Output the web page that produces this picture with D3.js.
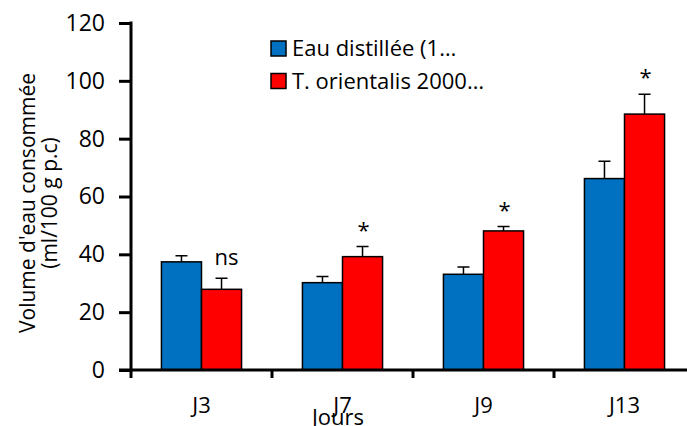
<!DOCTYPE html>
<html><head><meta charset="utf-8">
<script src="https://cdn.jsdelivr.net/npm/d3@7"></script>
<style>body{margin:0;background:#fff}svg{display:block}text{font-family:"Open Sans",sans-serif;fill:#000}</style>
</head><body><svg id="c" width="687" height="426"></svg>
<script>
const categories = ["J3","J7","J9","J13"];
const seriesNames = ["Eau distillée (1…","T. orientalis 2000…"];
const eauValues = [37.4, 30.2, 33.1, 66.2];
const eauErrors = [2.1, 2.1, 2.5, 6.0];
const orientValues = [27.9, 39.2, 48.1, 88.5];
const orientErrors = [3.8, 3.5, 1.5, 6.9];
const annotations = ["ns","*","*","*"];
const yTicks = [0,20,40,60,80,100,120];
const colors = ["#0070C0","#FF0000"];
const FS = 22;

const svg = d3.select("#c");
const x0 = d3.scaleBand().domain(categories).range([131,695]);
const x1 = d3.scaleBand().domain([0,1]).range([0,x0.bandwidth()]).paddingOuter(0.76);
const y = d3.scaleLinear().domain([0,120]).range([370,23]);

const data = categories.map((c,i)=>({c, vals:[
  {s:0,v:eauValues[i],e:eauErrors[i]},
  {s:1,v:orientValues[i],e:orientErrors[i]}], ann:annotations[i]}));

const g = svg.selectAll("g.cat").data(data).join("g").attr("transform",d=>`translate(${x0(d.c)},0)`);
g.selectAll("path.err").data(d=>d.vals).join("path")
  .attr("d",d=>{const cx=x1(d.s)+x1.bandwidth()/2;return `M${cx},${y(d.v)}V${y(d.v+d.e)}M${cx-6},${y(d.v+d.e)}H${cx+6}`;})
  .attr("stroke","#000").attr("stroke-width",1.5).attr("fill","none");
g.selectAll("rect").data(d=>d.vals).join("rect")
  .attr("x",d=>x1(d.s)).attr("width",x1.bandwidth())
  .attr("y",d=>y(d.v)).attr("height",d=>y(0)-y(d.v))
  .attr("fill",d=>colors[d.s]).attr("stroke","#000").attr("stroke-width",1.5);
g.append("text").attr("x",d=>x1(1)+x1.bandwidth()/2+(d.ann==="ns"?5:1))
  .attr("y",d=>{const r=d.vals[1];return d.ann==="ns"? y(r.v+r.e)-13 : y(r.v+r.e)-9;})
  .attr("text-anchor","middle").attr("font-size",FS)
  .text(d=>d.ann);

const yAxis = d3.axisLeft(y).tickValues(yTicks).tickSize(12).tickPadding(14);
const ya = svg.append("g").attr("transform","translate(131,0)").call(yAxis);
ya.select(".domain").remove();
ya.selectAll("line").attr("stroke","#000").attr("stroke-width",3);
ya.selectAll("text").attr("font-size",23).attr("font-family","'Open Sans',sans-serif").attr("fill","#000");
svg.append("line").attr("x1",131).attr("x2",131).attr("y1",y(120)-1.5).attr("y2",y(0)+1.5).attr("stroke","#000").attr("stroke-width",3);

svg.append("line").attr("x1",119).attr("x2",695).attr("y1",y(0)).attr("y2",y(0)).attr("stroke","#000").attr("stroke-width",3);
const bounds = categories.map(c=>x0(c)).concat([x0.range()[1]]);
svg.selectAll("line.xt").data(bounds).join("line").attr("class","xt")
  .attr("x1",d=>d).attr("x2",d=>d).attr("y1",y(0)).attr("y2",y(0)+8)
  .attr("stroke","#000").attr("stroke-width",3);
svg.selectAll("text.xl").data(categories).join("text").attr("class","xl")
  .attr("x",d=>x0(d)+x0.bandwidth()/2).attr("y",413).attr("text-anchor","middle")
  .attr("font-size",FS).text(d=>d);
svg.append("text").attr("x",338).attr("y",425).attr("text-anchor","middle").attr("font-size",FS).text("Jours");

const yt = svg.append("text").attr("transform","translate(0,203) rotate(-90)").attr("text-anchor","middle").attr("font-size",21);
yt.append("tspan").attr("x",0).attr("y",35).text("Volume d'eau consommée");
yt.append("tspan").attr("x",0).attr("y",57).text("(ml/100 g p.c)");

const lg = svg.selectAll("g.lg").data(seriesNames).join("g").attr("class","lg")
  .attr("transform",(d,i)=>`translate(271,${41+i*32.5})`);
lg.append("rect").attr("width",15).attr("height",15).attr("fill",(d,i)=>colors[i]).attr("stroke","#000").attr("stroke-width",1.5);
lg.append("text").attr("x",21).attr("y",15).attr("font-size",FS).text(d=>d);
</script></body></html>
